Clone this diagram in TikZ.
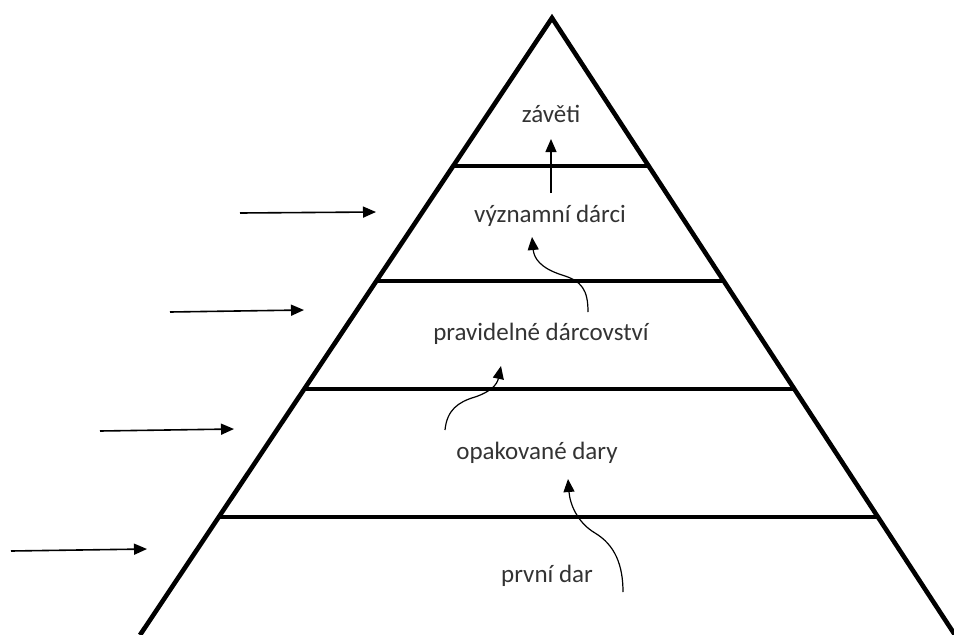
\documentclass[tikz,border=0pt]{standalone}
\usepackage{fontspec}
\setmainfont{Carlito}
\usetikzlibrary{arrows.meta}
\definecolor{txt}{HTML}{333333}
\tikzset{
  side/.style={line width=4.6pt, line join=miter},
  tier/.style={line width=4pt},
  lbl/.style={font=\fontsize{25}{28}\selectfont, text=txt, anchor=base, inner sep=0pt},
  inarrow/.style={line width=1.6pt, -{Triangle[width=11pt,length=13pt]}},
  uparrow/.style={line width=1.2pt, -{Triangle[width=11pt,length=13pt]}}
}
\begin{document}
\begin{tikzpicture}[x=1pt,y=-1pt]
\useasboundingbox (0,0) rectangle (954,635);
% pyramid
\coordinate (apex) at (552,18);
\coordinate (bl) at (140,635);
\coordinate (br) at (955,635);
\draw[side] (bl) -- (apex) -- (br);
% tiers
\coordinate (t1l) at (453,166); \coordinate (t1r) at (649,166);
\coordinate (t2l) at (376,281); \coordinate (t2r) at (724,281);
\coordinate (t3l) at (304,389); \coordinate (t3r) at (794,389);
\coordinate (t4l) at (219,517); \coordinate (t4r) at (878,517);
\draw[tier] (t1l) -- (t1r);
\draw[tier] (t2l) -- (t2r);
\draw[tier] (t3l) -- (t3r);
\draw[tier] (t4l) -- (t4r);
% labels
\node[lbl] (zav) at (551,122) {závěti};
\node[lbl] (vyz) at (550,222) {významní dárci};
\node[lbl] (pra) at (541,340) {pravidelné dárcovství};
\node[lbl] (opa) at (537,459) {opakované dary};
\node[lbl] (prv) at (547,582) {první dar};
% left arrows
\coordinate (a1s) at (240,213); \coordinate (a1e) at (376,212);
\coordinate (a2s) at (170,312); \coordinate (a2e) at (304,310);
\coordinate (a3s) at (100,431); \coordinate (a3e) at (234,429);
\coordinate (a4s) at (11,551);  \coordinate (a4e) at (147,549);
\draw[inarrow] (a1s) -- (a1e);
\draw[inarrow] (a2s) -- (a2e);
\draw[inarrow] (a3s) -- (a3e);
\draw[inarrow] (a4s) -- (a4e);
% up arrows
\coordinate (u0s) at (551,193); \coordinate (u0e) at (551,139);
\draw[uparrow] (u0s) -- (u0e);
\coordinate (u1s) at (588,312); \coordinate (u1e) at (532,237);
\draw[uparrow] (u1s) .. controls (588,290) and (582,281) .. (562,275)
  .. controls (540,268) and (534,258) .. (u1e);
\coordinate (u2s) at (445,430); \coordinate (u2e) at (501,366);
\draw[uparrow] (u2s) .. controls (447,410) and (458,402) .. (475,397)
  .. controls (490,392) and (497,385) .. (u2e);
\coordinate (u3s) at (623,592); \coordinate (u3e) at (568,479);
\draw[uparrow] (u3s) .. controls (623,565) and (615,545) .. (595,533)
  .. controls (578,523) and (570,505) .. (u3e);
\end{tikzpicture}
\end{document}
